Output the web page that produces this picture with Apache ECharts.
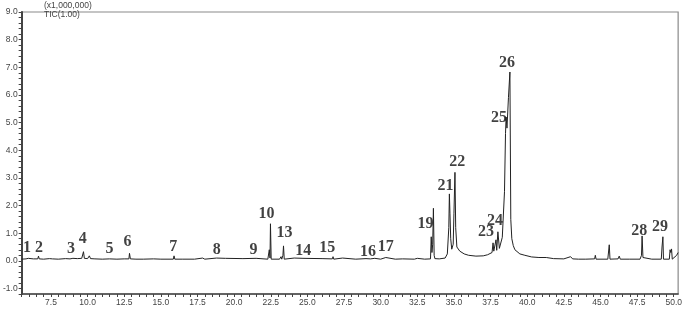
<!DOCTYPE html>
<html><head><meta charset="utf-8">
<script src="https://cdn.jsdelivr.net/npm/echarts@6/dist/echarts.min.js"></script>
<style>html,body{margin:0;padding:0;background:#fff}#c{width:685px;height:309px}</style>
</head><body><div id="c"></div>
<script>
// Retention time (min) and TIC intensity (x1,000,000)
var rt = [5.5,5.8,5.95,6.0,6.05,6.3,6.6,6.65,6.7,7.0,7.4,7.6,8.0,8.5,8.8,9.0,9.3,9.6,9.72,9.78,10.0,10.12,10.2,10.5,11.0,11.5,12.0,12.5,12.82,12.86,12.92,13.3,13.8,14.5,15.0,15.85,15.9,15.95,16.5,17.3,17.85,18.0,18.8,18.9,19.4,19.5,20.6,20.7,21.5,21.6,22.3,22.4,22.45,22.48,22.53,23.1,23.2,23.25,23.33,23.37,23.42,24.1,24.2,24.7,24.8,26.0,26.1,26.7,26.75,26.8,27.4,27.5,28.3,29.0,29.3,29.6,30.0,30.35,30.45,31.0,31.5,32.3,32.5,33.0,33.4,33.45,33.5,33.55,33.6,33.65,33.7,34.0,34.4,34.55,34.65,34.69,34.73,34.78,34.85,34.95,35.0,35.07,35.12,35.2,35.4,35.7,36.0,36.5,37.0,37.3,37.6,37.67,37.72,37.87,37.92,38.0,38.1,38.3,38.45,38.52,38.56,38.62,38.72,38.82,38.88,38.95,39.05,39.16,39.5,39.84,40.3,40.8,41.3,41.8,42.5,42.96,43.1,43.5,44.0,44.6,44.65,44.7,45.5,45.6,45.65,46.2,46.28,46.35,47.0,47.7,47.8,47.84,47.9,48.5,49.15,49.2,49.26,49.3,49.7,49.75,49.8,49.85,49.9,50.2,50.3];
var tic = [0.06,0.07,0.09,0.13,0.08,0.07,0.07,0.17,0.07,0.06,0.08,0.07,0.06,0.08,0.07,0.09,0.08,0.09,0.33,0.09,0.08,0.18,0.08,0.07,0.06,0.07,0.06,0.07,0.07,0.27,0.07,0.06,0.06,0.07,0.06,0.06,0.18,0.06,0.06,0.06,0.10,0.06,0.10,0.06,0.09,0.06,0.08,0.06,0.09,0.06,0.06,0.40,0.10,1.34,0.06,0.06,0.15,0.06,0.20,0.54,0.06,0.10,0.06,0.09,0.06,0.08,0.06,0.07,0.15,0.06,0.10,0.06,0.06,0.08,0.07,0.09,0.06,0.12,0.07,0.06,0.07,0.06,0.09,0.06,0.07,0.87,0.30,0.60,1.90,0.20,0.08,0.07,0.10,0.25,1.20,2.42,1.70,0.80,0.42,0.60,1.70,3.20,1.20,0.50,0.35,0.25,0.20,0.17,0.18,0.22,0.30,0.65,0.35,0.76,0.38,1.05,0.45,0.85,2.50,4.60,5.20,4.80,5.90,6.83,1.50,0.80,0.55,0.40,0.25,0.20,0.14,0.12,0.12,0.08,0.07,0.15,0.07,0.06,0.06,0.07,0.20,0.06,0.06,0.58,0.06,0.07,0.17,0.06,0.06,0.06,0.20,0.90,0.12,0.06,0.06,0.50,0.87,0.06,0.06,0.40,0.30,0.43,0.06,0.20,0.30];
// Peak number labels (position in data units)
var peakNo = ['1','2','3','4','5','6','7','8','9','10','13','14','15','16','17','19','21','22','23','24','25','26','28','29'];
var peakLabelRt = [5.87,6.69,8.86,9.67,11.5,12.72,15.84,18.82,21.33,22.21,23.43,24.72,26.35,29.13,30.35,33.06,34.42,35.23,37.19,37.81,38.08,38.62,47.64,49.06];
var peakLabelTic = [0.47,0.47,0.43,0.80,0.43,0.69,0.51,0.40,0.40,1.70,1.01,0.36,0.47,0.33,0.51,1.34,2.71,3.58,1.05,1.45,5.17,7.16,1.08,1.23];

var line = rt.map(function(t,i){return [t,tic[i]];});
var labels = peakNo.map(function(n,i){return {value:[peakLabelRt[i],peakLabelTic[i]],name:n};});

function isMult(v,s){var r=v/s;return Math.abs(r-Math.round(r))<1e-6;}
var chart = echarts.init(document.getElementById('c'),null,{renderer:'canvas'});
chart.setOption({
  animation:false,
  grid:{left:20,right:4,top:12,bottom:15,show:true,borderColor:'#8a8a8a',borderWidth:1.2,containLabel:false},
  xAxis:{type:'value',min:5.5,max:50.3,interval:0.5,
    axisLine:{show:true,onZero:false,lineStyle:{color:'#444',width:1.5}},
    axisTick:{show:true,length:3,lineStyle:{color:'#444'}},
    splitLine:{show:false},
    axisLabel:{margin:4,fontSize:8.5,color:'#444',fontFamily:'Liberation Sans',showMaxLabel:false,
      formatter:function(v){return isMult(v,2.5)?v.toFixed(1):'';}}
  },
  yAxis:{type:'value',min:-1.2,max:9.0,interval:0.2,
    axisLine:{show:true,onZero:false,lineStyle:{color:'#444',width:2}},
    axisTick:{show:true,length:3,lineStyle:{color:'#444'}},
    splitLine:{show:false},
    axisLabel:{margin:4,fontSize:8.5,color:'#444',fontFamily:'Liberation Sans',
      formatter:function(v){return isMult(v,1)?v.toFixed(1):'';}}
  },
  graphic:[
    {type:'text',left:44,top:1,style:{text:'(x1,000,000)',fontSize:8.5,fill:'#444',fontFamily:'Liberation Sans'}},
    {type:'text',left:44,top:10,style:{text:'TIC(1.00)',fontSize:8.5,fill:'#444',fontFamily:'Liberation Sans'}}
  ],
  series:[
    {type:'line',data:line,symbol:'none',lineStyle:{color:'#222',width:1},z:3},
    {type:'scatter',data:labels,symbolSize:0,z:4,
      label:{show:true,position:'inside',formatter:function(p){return p.name;},
        fontFamily:'Liberation Serif',fontWeight:'bold',fontSize:16,color:'#111'}}
  ]
});
</script></body></html>
